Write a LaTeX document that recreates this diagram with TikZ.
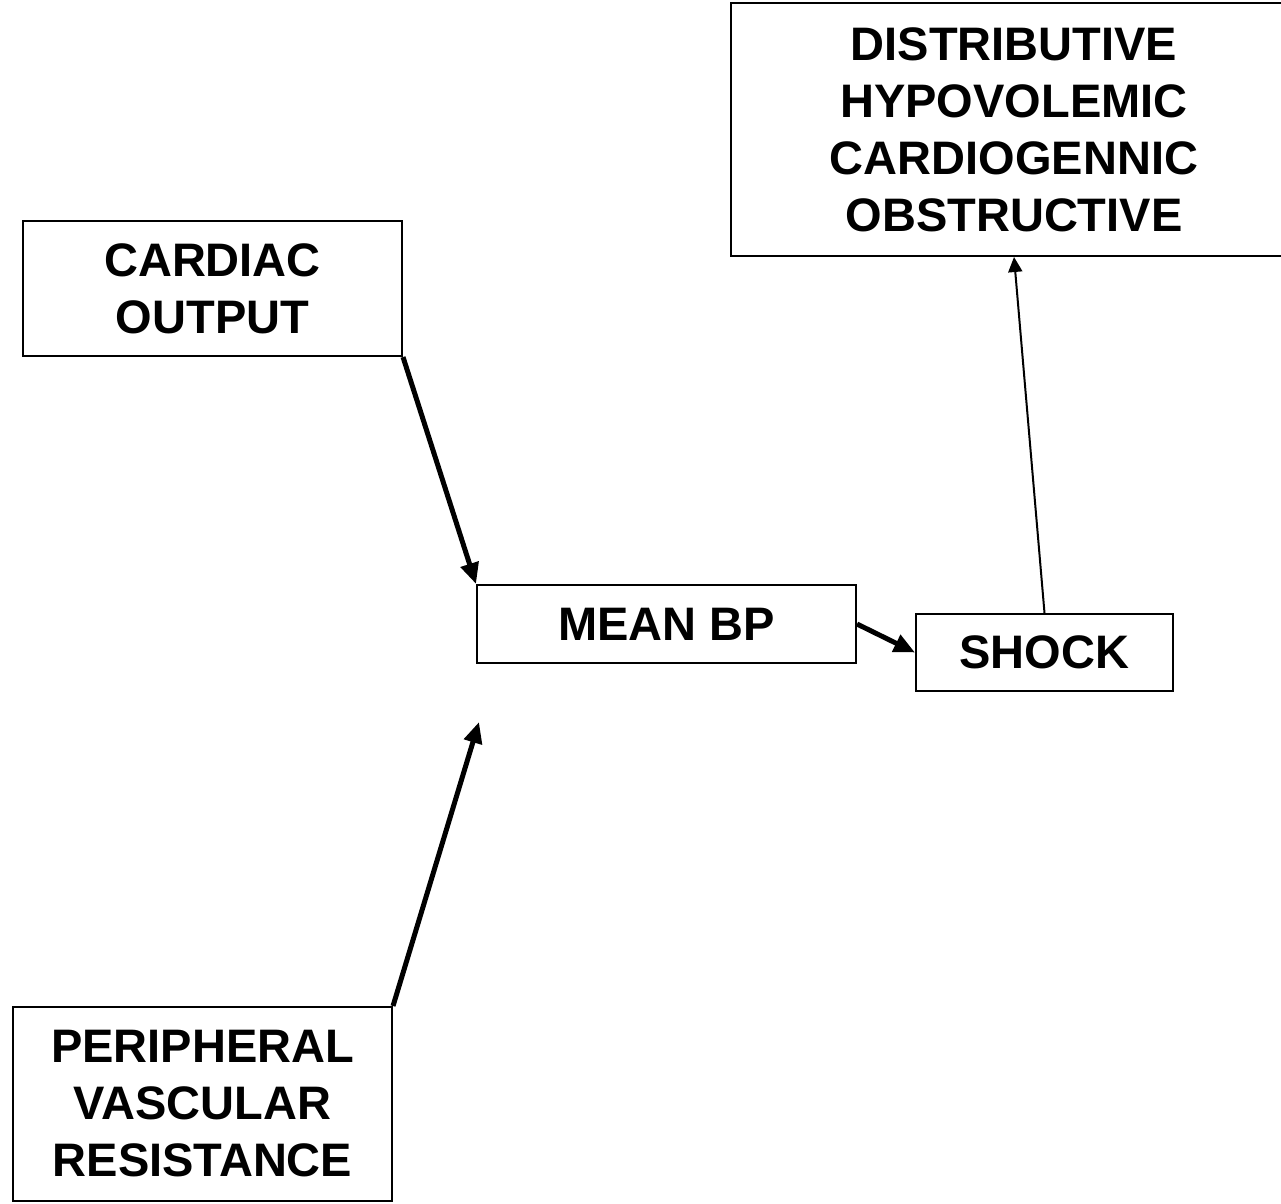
\documentclass[tikz,border=0pt]{standalone}
\usepackage{fontspec}
\setmainfont{Liberation Sans}
\usetikzlibrary{arrows.meta}
\begin{document}
\begin{tikzpicture}[x=1pt,y=-1pt,
  box/.style={draw=black, line width=2pt, rectangle, inner sep=0pt, align=center,
    font=\fontsize{47}{57}\selectfont\bfseries},
  thickarrow/.style={line width=5pt, -{Triangle[length=21pt,width=18pt]}},
  thinarrow/.style={line width=2pt, -{Triangle[length=15pt,width=14pt]}}]
\useasboundingbox (0,0) rectangle (1281,1203);
\clip (0,0) rectangle (1281,1203);

% boxes
\node[box, minimum width=379pt, minimum height=135pt] (co) at (212.5,288.5) {CARDIAC\\OUTPUT};
\node[box, minimum width=379pt, minimum height=194pt] (pvr) at (202.5,1104) {PERIPHERAL\\VASCULAR\\RESISTANCE};
\node[box, minimum width=379pt, minimum height=78pt] (bp) at (666.5,624) {MEAN BP};
\node[box, minimum width=257pt, minimum height=77pt] (shock) at (1044.5,652.5) {SHOCK};
\node[box, minimum width=566pt, minimum height=253pt] (types) at (1014,129.5)
  {DISTRIBUTIVE\\HYPOVOLEMIC\\CARDIOGENNIC\\OBSTRUCTIVE};

\coordinate (pvrtip) at (479,722);

% connectors
\draw[thickarrow] (co.south east) -- (bp.north west);
\draw[thickarrow] (pvr.north east) -- (pvrtip);
\draw[thickarrow] (bp.east) -- (shock.west);
\draw[thinarrow] (shock.north) -- (types.south);
\end{tikzpicture}
\end{document}
